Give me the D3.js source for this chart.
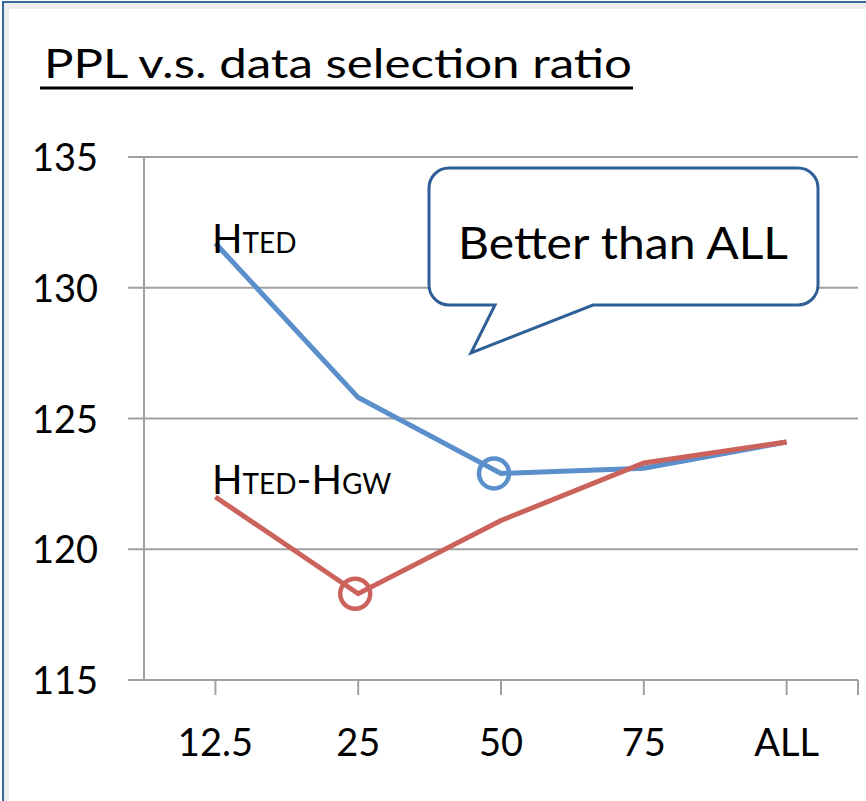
<!DOCTYPE html>
<html>
<head>
<meta charset="utf-8">
<script src="https://cdn.jsdelivr.net/npm/d3@7"></script>
<style>
  body { margin: 0; background: #fff; }
  text { font-family: Lato, "Open Sans", sans-serif; fill: #000; }
</style>
</head>
<body>
<div class="chart"></div>
<script>
// Chart values
var categories = ["12.5", "25", "50", "75", "ALL"];
var hted = [131.7, 125.8, 122.9, 123.1, 124.1];
var htedHgw = [122.0, 118.3, 121.1, 123.3, 124.1];
var yTicks = [115, 120, 125, 130, 135];
// highlighted points (index into categories)
var highlightBlue = 2;
var highlightRed = 1;

var svgWidth = 866;
var svgHeight = 801;

var svg = d3.select(".chart")
    .append("svg")
    .attr("width", svgWidth)
    .attr("height", svgHeight);

// frame with light inner shadow
svg.append("rect")
    .attr("x", 6).attr("y", 6)
    .attr("width", svgWidth).attr("height", svgHeight)
    .attr("fill", "none")
    .attr("stroke", "#ececec")
    .attr("stroke-width", 6);
svg.append("rect")
    .attr("x", 3).attr("y", 2)
    .attr("width", svgWidth + 10).attr("height", svgHeight + 10)
    .attr("fill", "none")
    .attr("stroke", "#3a6799")
    .attr("stroke-width", 2);

// Title
svg.append("text")
    .attr("x", 44)
    .attr("y", 78)
    .attr("textLength", 588)
    .attr("lengthAdjust", "spacingAndGlyphs")
    .style("font-size", "40px")
    .text("PPL v.s. data selection ratio");
svg.append("line")
    .attr("x1", 40).attr("x2", 633)
    .attr("y1", 88).attr("y2", 88)
    .attr("stroke", "#000")
    .attr("stroke-width", 3);

// Scales
var xScale = d3.scaleBand().domain(categories).range([144, 858]).padding(0);
var yScale = d3.scaleLinear().domain([115, 135]).range([680, 157]);
var xc = function (c) { return xScale(c) + xScale.bandwidth() / 2; };

var grid = svg.append("g");

// Horizontal gridlines with small outward ticks
grid.selectAll("line.grid")
    .data(yTicks)
    .enter()
    .append("line")
    .attr("class", "grid")
    .attr("x1", 128)
    .attr("x2", 858)
    .attr("y1", function (d) { return yScale(d); })
    .attr("y2", function (d) { return yScale(d); })
    .attr("stroke", "#a0a0a0")
    .attr("stroke-width", 2);

// y axis line
grid.append("line")
    .attr("x1", 144).attr("x2", 144)
    .attr("y1", yScale(135)).attr("y2", yScale(115))
    .attr("stroke", "#a0a0a0")
    .attr("stroke-width", 2);

// x ticks at category centers and at the end of the axis
var xTickPos = categories.map(xc).concat([xScale.range()[1]]);
grid.selectAll("line.xtick")
    .data(xTickPos)
    .enter()
    .append("line")
    .attr("class", "xtick")
    .attr("x1", function (d) { return d; })
    .attr("x2", function (d) { return d; })
    .attr("y1", yScale(115))
    .attr("y2", yScale(115) + 15)
    .attr("stroke", "#a0a0a0")
    .attr("stroke-width", 2);

// y tick labels
svg.selectAll("text.ylab")
    .data(yTicks)
    .enter()
    .append("text")
    .attr("class", "ylab")
    .attr("x", 98)
    .attr("y", function (d) { return yScale(d) + 14; })
    .attr("text-anchor", "end")
    .style("font-size", "38px")
    .text(function (d) { return d; });

// x tick labels
svg.selectAll("text.xlab")
    .data(categories)
    .enter()
    .append("text")
    .attr("class", "xlab")
    .attr("x", function (d) { return xc(d); })
    .attr("y", 756)
    .attr("text-anchor", "middle")
    .style("font-size", "38px")
    .text(function (d) { return d; });

// Lines
var line = d3.line()
    .x(function (d, i) { return xc(categories[i]); })
    .y(function (d) { return yScale(d); });

svg.append("path")
    .datum(hted)
    .attr("d", line)
    .attr("fill", "none")
    .attr("stroke", "#5a8fcb")
    .attr("stroke-width", 5);

svg.append("path")
    .datum(htedHgw)
    .attr("d", line)
    .attr("fill", "none")
    .attr("stroke", "#cc625c")
    .attr("stroke-width", 5);

// Highlight circles
svg.append("circle")
    .attr("cx", xc(categories[highlightBlue]) - 7)
    .attr("cy", yScale(hted[highlightBlue]))
    .attr("r", 15)
    .attr("fill", "none")
    .attr("stroke", "#5a8fcb")
    .attr("stroke-width", 4.5);

svg.append("circle")
    .attr("cx", xc(categories[highlightRed]) - 3)
    .attr("cy", yScale(htedHgw[highlightRed]))
    .attr("r", 15)
    .attr("fill", "none")
    .attr("stroke", "#cc625c")
    .attr("stroke-width", 4.5);

// Series labels (small caps style)
function seriesLabel(x, y, parts) {
    var t = svg.append("text").attr("x", x).attr("y", y);
    parts.forEach(function (p) {
        t.append("tspan")
            .style("font-size", p[1] + "px")
            .text(p[0]);
    });
}
seriesLabel(212, 253, [["H", 40], ["TED", 28]]);
seriesLabel(212, 494, [["H", 40], ["TED", 28], ["-", 40], ["H", 40], ["GW", 28]]);

// Callout bubble
var bx0 = 429, by0 = 168, bx1 = 818, by1 = 305, r = 20;
var tail = { a: 495, tip: [471, 353], b: 593 };
var p = d3.path();
p.moveTo(bx0 + r, by0);
p.lineTo(bx1 - r, by0);
p.arcTo(bx1, by0, bx1, by0 + r, r);
p.lineTo(bx1, by1 - r);
p.arcTo(bx1, by1, bx1 - r, by1, r);
p.lineTo(tail.b, by1);
p.lineTo(tail.tip[0], tail.tip[1]);
p.lineTo(tail.a, by1);
p.lineTo(bx0 + r, by1);
p.arcTo(bx0, by1, bx0, by1 - r, r);
p.lineTo(bx0, by0 + r);
p.arcTo(bx0, by0, bx0 + r, by0, r);
p.closePath();

svg.append("path")
    .attr("d", p.toString())
    .attr("fill", "#fff")
    .attr("stroke", "#2f5f97")
    .attr("stroke-width", 3);

svg.append("text")
    .attr("x", 458)
    .attr("y", 259)
    .attr("textLength", 330)
    .attr("lengthAdjust", "spacingAndGlyphs")
    .style("font-size", "44px")
    .text("Better than ALL");
</script>
</body>
</html>
